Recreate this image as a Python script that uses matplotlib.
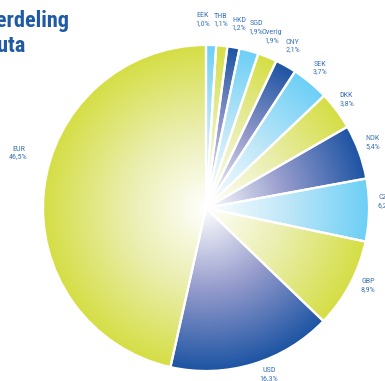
import matplotlib
matplotlib.use("Agg")
import matplotlib.pyplot as plt
import numpy as np
from matplotlib import font_manager
from matplotlib.colors import LinearSegmentedColormap

# valuta verdeling (procenten), met de klok mee vanaf boven
currencies = ["EEK", "THB", "HKD", "SGD", "Overig", "CNY", "SEK",
              "DKK", "NOK", "CZK", "GBP", "USD", "EUR"]
shares = [1.0, 1.1, 1.2, 1.9, 1.9, 2.1, 3.7, 3.8, 5.4, 6.2, 8.9, 16.3, 46.5]
groups = ["light", "green", "dark", "light", "green", "dark", "light",
          "green", "dark", "light", "green", "dark", "green"]

# kleurverloop per groep: wit -> midden -> rand
ramps = {
    "light": ["#ffffff", "#bfe7f8", "#6dcff6"],
    "green": ["#ffffff", "#eaeeac", "#d5de45"],
    "dark": ["#ffffff", "#959bcc", "#1d54a3"],
}
# plaats van de labels: afstand tot midden en verschuiving in graden
label_dist = [1.16, 1.16, 1.15, 1.15, 1.13, 1.13, 1.11, 1.09, 1.10, 1.10, 1.10, 1.09, 1.20]
label_shift = [2.7, 1.1, -0.4, -0.2, 1.1, 1.2, 0.6, 1.0, 1.5, 2.9, 2.5, 4.1, -10.1]

# smalle letter zoeken als die er is
fonts = font_manager.fontManager.ttflist
narrow = dict(family="DejaVu Sans")
for want in ["Liberation Sans Narrow", "Roboto Condensed", "Open Sans Condensed",
             "Noto Sans Condensed", "DejaVu Sans Condensed"]:
    if any(f.name == want for f in fonts):
        narrow = dict(family=want)
        break
else:
    for f in fonts:
        if f.stretch in ("condensed", "semi-condensed") and f.name in ("DejaVu Sans", "Noto Sans", "Open Sans", "Roboto"):
            narrow = dict(family=f.name, fontstretch=f.stretch)
            break

W, H = 385, 381
fig = plt.figure(figsize=(W / 100, H / 100), dpi=100)
ax = fig.add_axes([43 / W, 10 / H, 326 / W, 326 / H])

labels = [f"{c}\n{s:.1f}%".replace(".", ",") for c, s in zip(currencies, shares)]

wedges, texts = ax.pie(shares, labels=labels, startangle=90, counterclock=False,
                       radius=1.0, labeldistance=1.12,
                       wedgeprops=dict(facecolor="none", edgecolor="white",
                                       linewidth=1.6, zorder=3),
                       textprops=dict(color="#3f76b8", fontsize=5.9,
                                      linespacing=1.35, **narrow))

# radiaal verloop onder elke punt, geknipt op de vorm van de punt
n = 400
xs = np.linspace(-1, 1, n)
gx, gy = np.meshgrid(xs, xs)
rad = np.clip(np.hypot(gx, gy), 0, 1)
for w, g in zip(wedges, groups):
    cmap = LinearSegmentedColormap.from_list("r", ramps[g])
    im = ax.imshow(cmap(rad), extent=[-1, 1, -1, 1], origin="lower",
                   interpolation="bilinear", zorder=1)
    im.set_clip_path(w)

# labels centreren op hun eigen afstand en hoek
for w, t, d, s in zip(wedges, texts, label_dist, label_shift):
    ang = np.deg2rad((w.theta1 + w.theta2) / 2 + s)
    t.set_position((d * np.cos(ang), d * np.sin(ang)))
    t.set_ha("center")
    t.set_va("center")

ax.set_xlim(-1, 1)
ax.set_ylim(-1, 1)
ax.set_aspect("equal")
ax.axis("off")

title_kw = dict(fontsize=16, fontweight="bold", color="#1f5aa6", ha="right", va="baseline")
title_kw.update(narrow)
fig.text(70 / W, 1 - 27 / H, "Verdeling", **title_kw)
fig.text(26 / W, 1 - 52 / H, "valuta", **title_kw)

fig.savefig("out.png", dpi=100)
